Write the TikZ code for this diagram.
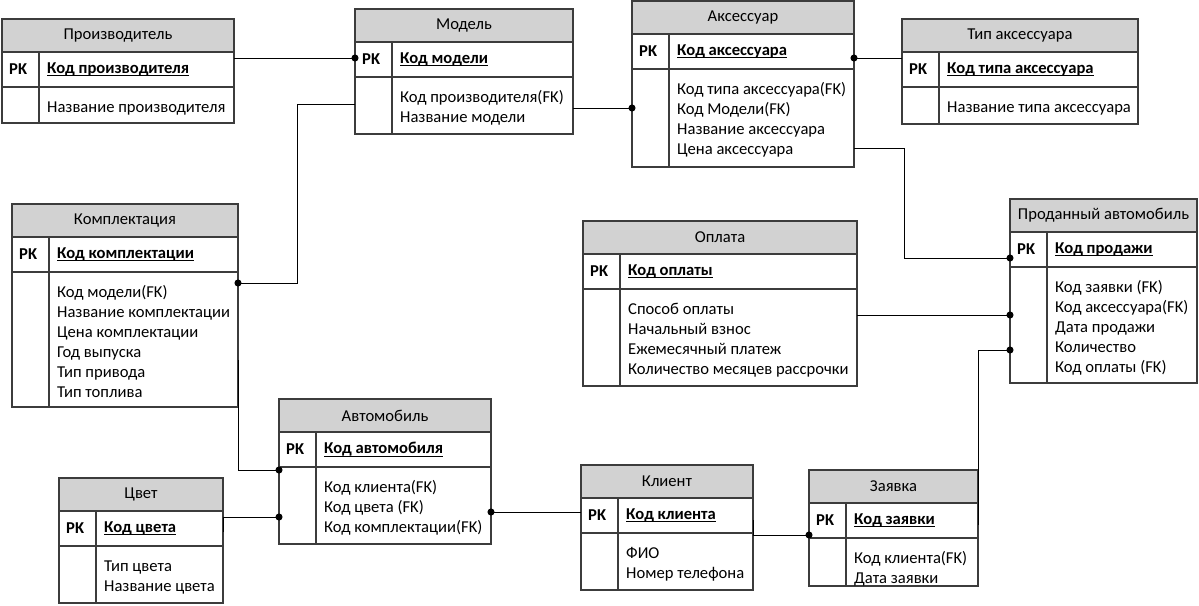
\documentclass[tikz,border=0pt]{standalone}
\usepackage{fontspec}
\setmainfont{Carlito}
\usetikzlibrary{arrows.meta}

\definecolor{hdrgray}{RGB}{210,210,210}
\definecolor{edgegray}{RGB}{60,60,60}

% underlined key field
\newcommand{\ulkey}[1]{\sbox0{#1}\rlap{\rule[-3pt]{\wd0}{1.2pt}}\usebox0}

% name, top-left, width, attr height, title, key, attributes
\newcommand{\ertable}[7]{%
    \node[hdr, minimum width=#3] (#1) at (#2) {#5};
    \node[pkrow, minimum width=#3] (#1pk) at (#1.south west) {};
    \node[atrow, minimum width=#3, minimum height=#4] (#1at) at (#1pk.south west) {};
    \draw[tbledge] ([xshift=37pt]#1pk.north west) -- ([xshift=37pt]#1at.south west);
    \node[pklbl] (#1pkl) at ([xshift=7pt]#1pk.west) {PK};
    \node[keylbl] (#1key) at ([xshift=45pt]#1pk.west) {\ulkey{#6}};
    \node[atlbl] (#1list) at ([xshift=45pt,yshift=-11pt]#1at.north west) {\strut #7};
}

\begin{document}
\begin{tikzpicture}[
    x=1pt, y=-1pt,
    font=\fontsize{16.6}{20}\selectfont,
    tbl/.style = {rectangle, draw=edgegray, line width=1.2pt, anchor=north west, inner sep=0pt, outer sep=0pt},
    hdr/.style = {tbl, fill=hdrgray, minimum height=33pt},
    pkrow/.style = {tbl, fill=white, minimum height=35pt},
    atrow/.style = {tbl, fill=white},
    tbledge/.style = {draw=edgegray, line width=1.2pt},
    pklbl/.style = {anchor=west, inner sep=0pt, font=\fontsize{16.6}{20}\selectfont\bfseries},
    keylbl/.style = {anchor=west, inner sep=0pt, font=\fontsize{16.6}{20}\selectfont\bfseries},
    atlbl/.style = {anchor=north west, inner sep=0pt, align=left},
    link/.style = {draw=black, line width=1pt},
    dotend/.style = {-{Circle[length=7pt]}, shorten >=-3.5pt},
    dotstart/.style = {{Circle[length=7pt]}-, shorten <=-3.5pt}
]
    \useasboundingbox[fill=white] (0,0) rectangle (1199,605);

    \ertable{proizv}{2,19}{232pt}{36pt}{Производитель}{Код производителя}{Название производителя}
    \ertable{model}{355,9}{218pt}{57pt}{Модель}{Код модели}{Код производителя(FK)\\Название модели}
    \ertable{aks}{632,1}{222pt}{98pt}{Аксессуар}{Код аксессуара}{Код типа аксессуара(FK)\\Код Модели(FK)\\Название аксессуара\\Цена аксессуара}
    \ertable{tip}{902,19}{236pt}{37pt}{Тип аксессуара}{Код типа аксессуара}{Название типа аксессуара}
    \ertable{kompl}{12,204}{226pt}{135pt}{Комплектация}{Код комплектации}{Код модели(FK)\\Название комплектации\\Цена комплектации\\Год выпуска\\Тип привода\\Тип топлива}
    \ertable{oplata}{583,221}{274pt}{97pt}{Оплата}{Код оплаты}{Способ оплаты\\Начальный взнос\\Ежемесячный платеж\\Количество месяцев рассрочки}
    \ertable{prodan}{1010,199}{187pt}{116pt}{Проданный автомобиль}{Код продажи}{Код заявки (FK)\\Код аксессуара(FK)\\Дата продажи\\Количество\\Код оплаты (FK)}
    \ertable{avto}{279,399}{212pt}{77pt}{Автомобиль}{Код автомобиля}{Код клиента(FK)\\Код цвета (FK)\\Код комплектации(FK)}
    \ertable{tsvet}{59,478}{164pt}{57pt}{Цвет}{Код цвета}{Тип цвета\\Название цвета}
    \ertable{klient}{581,465}{172pt}{57pt}{Клиент}{Код клиента}{ФИО\\Номер телефона}
    \ertable{zayav}{809,470}{169pt}{48pt}{Заявка}{Код заявки}{Код клиента(FK)\\Дата заявки}

    % relations
    \draw[link, dotend] (proizvpk.east |- 0,58) -- (modelpk.west |- 0,58);
    \draw[link, dotend] (modelat.east |- 0,108) -- (aksat.west |- 0,108);
    \draw[link, dotstart] (akspk.east |- 0,58) -- (tippk.west |- 0,58);
    \draw[link, dotend] (modelat.west |- 0,104) -- ++(-58,0) |- (komplat.east |- 0,283);
    \draw[link, dotend] (aksat.east |- 0,148) -- ++(50,0) |- (prodanpk.west |- 0,258);
    \draw[link, dotend] (oplataat.east |- 0,315) -- (prodanat.west |- 0,315);
    \draw[link, dotend] (zayavpk.east |- 0,525) |- (prodanat.west |- 0,350);
    \draw[link, dotstart] (avtoat.east |- 0,512) -- (klientpk.west |- 0,512);
    \draw[link, dotend] (klientpk.east |- 0,520) -- ++(0,15) -- (zayavpk.west |- 0,535);
    \draw[link, dotend] (komplat.east |- 0,360) |- (avtoat.west |- 0,470);
    \draw[link, dotend] (tsvetpk.east |- 0,532) |- (avtoat.west |- 0,517);
\end{tikzpicture}
\end{document}
